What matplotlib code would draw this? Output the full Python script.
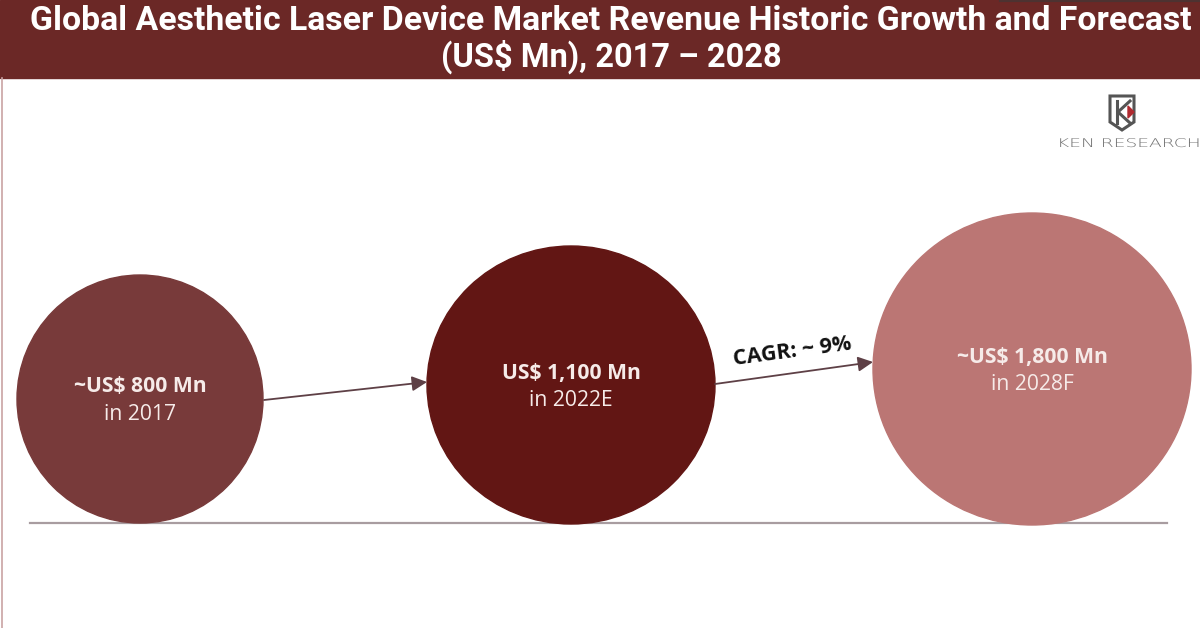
import matplotlib
matplotlib.use("Agg")
import matplotlib.pyplot as plt
from matplotlib.patches import Ellipse, Rectangle, Polygon, FancyArrowPatch, PathPatch
from matplotlib.textpath import TextPath
from matplotlib.font_manager import FontProperties
from matplotlib.transforms import Affine2D

# ---- data ----
years = ["2017", "2022E", "2028F"]
values = [800, 1100, 1800]          # US$ Mn
approx = ["~", "", "~"]
cagr = 9                            # %
title_lines = ["Global Aesthetic Laser Device Market Revenue Historic Growth and Forecast",
               "(US$ Mn), 2017 \u2013 2028"]
logo_text = "KEN RESEARCH"

# ---- layout / style ----
W, H = 1200, 628
centers = [(140, 399), (571, 385), (1032, 369)]
sizes = [(246, 248), (288, 278), (318, 312)]
colors = ["#783a3a", "#621614", "#bb7674"]
bar_color = "#6b2826"
text_col = "#f6ebe9"

title_font = "Roboto"
body_font = "Open Sans"

fig = plt.figure(figsize=(W / 100, H / 100), dpi=100)
ax = fig.add_axes([0, 0, 1, 1])
ax.set_xlim(0, W)
ax.set_ylim(H, 0)
ax.axis("off")

# title bar
ax.add_patch(Rectangle((0, 0), W, 78, color=bar_color, zorder=1))
ax.plot([1000, 1200], [1, 1], color="#3a3a3a", lw=1.5, zorder=2, alpha=0.6)
ax.text(611, 21, title_lines[0], ha="center", va="center", color="white",
        fontsize=24.3, fontweight="bold", family=title_font, zorder=3)
ax.text(611, 57, title_lines[1], ha="center", va="center", color="white",
        fontsize=23.5, fontweight="bold", family=title_font, zorder=3)

# left border
ax.plot([2, 2], [78, H], color="#c9a3a3", lw=1.2, zorder=2)

# baseline
ax.plot([30, 1167], [523, 523], color="#a89ca0", lw=1.6, zorder=1)

# circles + labels
for (cx, cy), (w, h), c, v, a, yr in zip(centers, sizes, colors, values, approx, years):
    ax.add_patch(Ellipse((cx, cy), w, h, color=c, zorder=2))
    ax.text(cx, cy - 12, f"{a}US$ {v:,} Mn", ha="center", va="center", color=text_col,
            fontsize=15.2, fontweight="bold", family=body_font, zorder=3)
    ax.text(cx, cy + 15, f"in {yr}", ha="center", va="center", color=text_col,
            fontsize=15.2, family=body_font, zorder=3)

# arrows
arrow_col = "#5e4046"
for (x0, y0), (x1, y1) in [((264, 400), (427, 382)), ((715, 384), (873, 362))]:
    ax.add_patch(FancyArrowPatch((x0, y0), (x1, y1), arrowstyle="-|>,head_length=9,head_width=4.5",
                                 color=arrow_col, lw=1.3, zorder=4, shrinkA=0, shrinkB=0,
                                 mutation_scale=1))

ax.text(792, 352, f"CAGR: ~ {cagr}%", ha="center", va="center", color="#111111",
        fontsize=15.5, fontweight="bold", family=body_font, rotation=7.5, zorder=4)

# logo
shield = Polygon([(1110, 96), (1134, 96), (1134, 122), (1122, 130), (1110, 122)],
                 closed=True, fill=False, edgecolor="#555555", lw=2.2, zorder=3)
ax.add_patch(shield)
ax.plot([1117, 1117], [101, 123], color="#555555", lw=2.2, zorder=3)
ax.plot([1130, 1118, 1130], [101, 112, 123], color="#555555", lw=2.2, zorder=3)
ax.add_patch(Polygon([(1128, 106), (1134, 112), (1128, 118)], closed=True,
                     color="#b02a30", zorder=3))
tp = TextPath((0, 0), logo_text, size=15, prop=FontProperties(family="DejaVu Sans", weight="light"))
tr = Affine2D().scale(1.0, -1.0).scale(1.24, 0.8).translate(1057, 147)
ax.add_patch(PathPatch(tr.transform_path(tp), facecolor="#707070", edgecolor="none", zorder=3))

fig.savefig("out.png", dpi=100, facecolor="white")
